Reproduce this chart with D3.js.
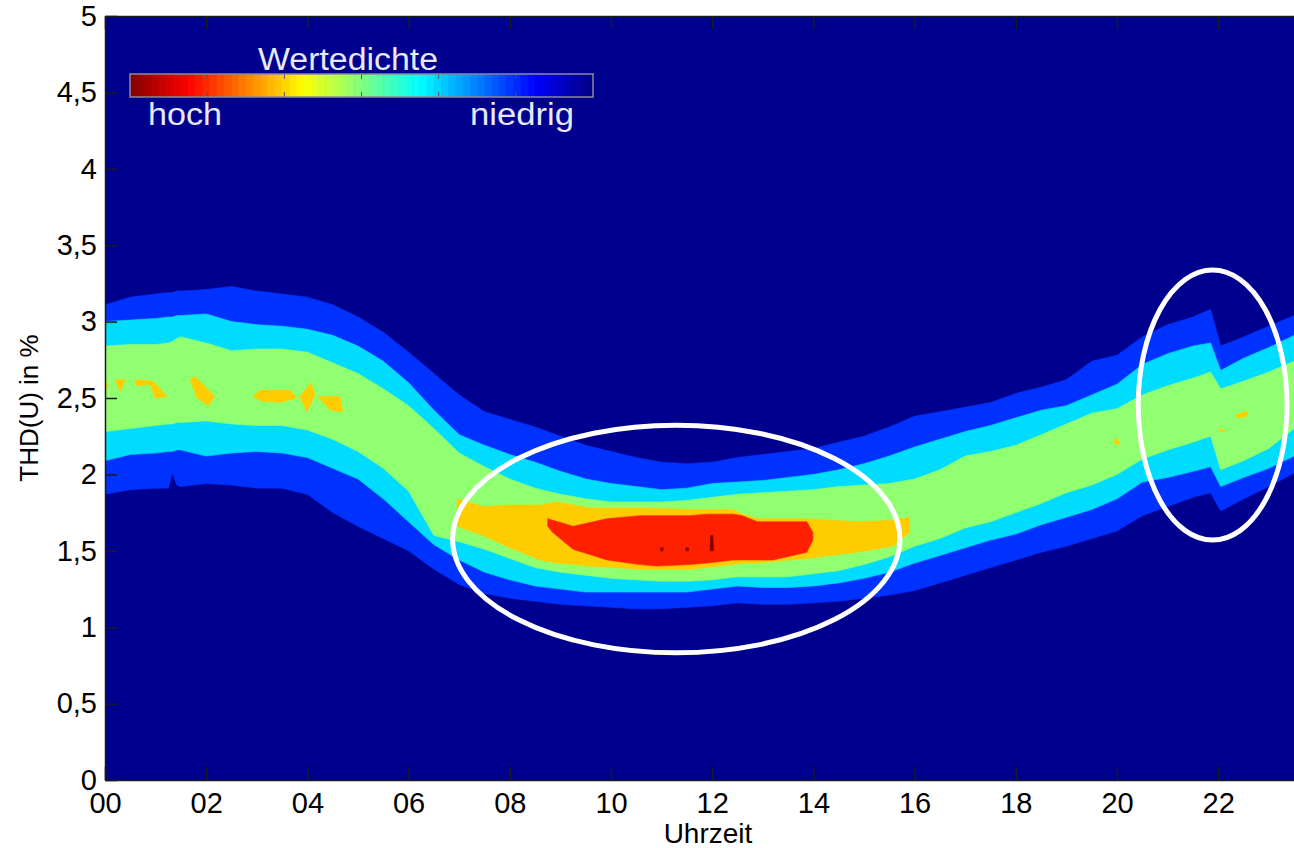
<!DOCTYPE html>
<html>
<head>
<meta charset="utf-8">
<script src="https://cdn.jsdelivr.net/npm/d3@7"></script>
<style>
  html, body { margin: 0; padding: 0; background: #fff; overflow: hidden; }
  svg text { font-family: "Liberation Sans", Arial, Helvetica, sans-serif; }
</style>
</head>
<body>
<svg id="chart" width="1294" height="848"></svg>
<script>
// ---- Data: THD(U) value-density bands over the time of day ----
// Sample times (hours) shared by the outer density levels
const hours = [0, 0.5, 1, 1.25, 1.33, 1.42, 1.5, 2, 2.5, 3, 3.5, 4, 4.5, 5, 5.5, 6, 6.5, 7, 7.5, 8, 8.5, 9, 9.5,
  10, 10.5, 11, 11.5, 12, 12.5, 13, 13.5, 14, 14.5, 15, 15.5, 16, 16.5, 17, 17.5, 18, 18.5, 19, 19.5,
  20, 20.5, 21, 21.5, 21.85, 22.05, 22.5, 23, 23.5, 24];

// Lowest density level (blue)
const blueUpper = [3.11, 3.16, 3.18, 3.19, 3.19, 3.20, 3.20, 3.21, 3.23, 3.20, 3.18, 3.16, 3.11, 3.03, 2.93, 2.80, 2.66, 2.52, 2.41, 2.36, 2.31, 2.25, 2.19,
  2.15, 2.11, 2.08, 2.07, 2.08, 2.11, 2.13, 2.15, 2.17, 2.21, 2.25, 2.31, 2.38, 2.41, 2.44, 2.47, 2.53, 2.57, 2.62, 2.74,
  2.78, 2.90, 2.98, 3.03, 3.08, 2.84, 2.90, 2.97, 3.04, 3.08];
const blueLower = [1.87, 1.90, 1.91, 1.91, 2.01, 1.93, 1.92, 1.94, 1.93, 1.91, 1.91, 1.87, 1.75, 1.66, 1.58, 1.50, 1.38, 1.28, 1.22, 1.19, 1.17, 1.15, 1.14,
  1.13, 1.12, 1.12, 1.13, 1.14, 1.16, 1.15, 1.15, 1.16, 1.17, 1.19, 1.21, 1.24, 1.29, 1.34, 1.39, 1.44, 1.49, 1.53, 1.58,
  1.63, 1.73, 1.79, 1.85, 1.88, 1.76, 1.84, 1.92, 2.01, 2.05];

// Second level (cyan)
const cyanUpper = [3.00, 3.01, 3.02, 3.03, 3.03, 3.04, 3.04, 3.05, 3.00, 2.98, 2.97, 2.95, 2.91, 2.84, 2.74, 2.60, 2.42, 2.26, 2.19, 2.13, 2.08, 2.02, 1.97,
  1.94, 1.92, 1.90, 1.91, 1.94, 1.95, 1.96, 1.98, 2.00, 2.03, 2.07, 2.12, 2.18, 2.23, 2.28, 2.32, 2.37, 2.42, 2.45, 2.52,
  2.59, 2.72, 2.79, 2.84, 2.86, 2.68, 2.76, 2.83, 2.91, 2.95];
const cyanLower = [2.09, 2.13, 2.14, 2.15, 2.15, 2.16, 2.16, 2.12, 2.14, 2.15, 2.14, 2.11, 2.04, 1.97, 1.84, 1.69, 1.54, 1.44, 1.36, 1.31, 1.27, 1.25, 1.23,
  1.23, 1.23, 1.23, 1.23, 1.25, 1.27, 1.26, 1.26, 1.27, 1.29, 1.32, 1.36, 1.42, 1.47, 1.52, 1.57, 1.61, 1.67, 1.72, 1.77,
  1.84, 1.95, 1.98, 2.02, 2.05, 1.92, 1.98, 2.04, 2.12, 2.16];

// Third level (green)
const greenUpper = [2.84, 2.85, 2.85, 2.86, 2.87, 2.89, 2.90, 2.86, 2.81, 2.82, 2.82, 2.80, 2.73, 2.66, 2.56, 2.45, 2.30, 2.14, 2.05, 1.97, 1.91, 1.87, 1.84,
  1.82, 1.82, 1.82, 1.83, 1.85, 1.87, 1.88, 1.89, 1.90, 1.92, 1.93, 1.94, 1.97, 2.03, 2.12, 2.15, 2.19, 2.26, 2.33, 2.40,
  2.43, 2.52, 2.58, 2.63, 2.67, 2.56, 2.61, 2.67, 2.74, 2.78];
const greenLower = [2.28, 2.30, 2.32, 2.33, 2.33, 2.34, 2.34, 2.35, 2.33, 2.32, 2.32, 2.29, 2.23, 2.15, 2.04, 1.89, 1.60, 1.56, 1.51, 1.45, 1.39, 1.36, 1.34,
  1.32, 1.31, 1.30, 1.30, 1.31, 1.33, 1.33, 1.33, 1.35, 1.37, 1.41, 1.46, 1.53, 1.58, 1.65, 1.69, 1.75, 1.81, 1.88, 1.93,
  2.00, 2.10, 2.16, 2.21, 2.25, 2.03, 2.09, 2.17, 2.30, 2.34];

// Fourth level (orange), main cluster around midday
const orangeHours = [6.96, 7.47, 8.0, 8.6, 8.93, 9.58, 10.57, 11.56, 12.41, 12.6, 12.89, 13.87, 14.86, 15.57, 15.9];
const orangeUpper = [1.84, 1.79, 1.80, 1.80, 1.82, 1.78, 1.78, 1.77, 1.77, 1.74, 1.71, 1.71, 1.69, 1.70, 1.72];
const orangeLower = [1.66, 1.60, 1.52, 1.44, 1.42, 1.40, 1.38, 1.38, 1.41, 1.42, 1.42, 1.45, 1.49, 1.53, 1.62];

// Fourth level (orange), small isolated patches as [hour, value] outlines
const orangePatches = [
  [[0, 2.62], [0.06, 2.58], [0, 2.54]],
  [[0.20, 2.62], [0.40, 2.62], [0.30, 2.54]],
  [[0.59, 2.62], [0.95, 2.61], [1.23, 2.51], [0.99, 2.50], [0.89, 2.59], [0.63, 2.58]],
  [[1.68, 2.62], [1.78, 2.64], [2.17, 2.51], [2.04, 2.45], [1.82, 2.50]],
  [[2.92, 2.51], [3.06, 2.55], [3.66, 2.55], [3.79, 2.50], [3.46, 2.47], [3.10, 2.48]],
  [[4.07, 2.60], [4.15, 2.52], [3.99, 2.41], [3.85, 2.51]],
  [[4.21, 2.51], [4.64, 2.51], [4.70, 2.41], [4.45, 2.42]],
  [[19.92, 2.21], [20.0, 2.24], [20.06, 2.19]],
  [[22.0, 2.30], [22.17, 2.28], [22.04, 2.28]],
  [[22.33, 2.39], [22.57, 2.41], [22.57, 2.38], [22.39, 2.37]]
];

// Fifth level (red), core of the midday cluster
const redHours = [8.75, 8.85, 9.25, 9.92, 10.57, 10.9, 11.56, 11.9, 12.41, 12.6, 12.89, 13.2, 13.87, 13.99];
const redUpper = [1.71, 1.70, 1.66, 1.71, 1.73, 1.73, 1.73, 1.74, 1.74, 1.73, 1.69, 1.69, 1.69, 1.62];
const redLower = [1.66, 1.62, 1.51, 1.44, 1.41, 1.40, 1.41, 1.42, 1.44, 1.44, 1.44, 1.44, 1.49, 1.57];

// Highest level (dark red) specks
const darkRedPatches = [
  [[10.98, 1.52], [11.03, 1.52], [11.03, 1.50], [10.98, 1.50]],
  [[11.48, 1.52], [11.53, 1.52], [11.53, 1.50], [11.48, 1.50]],
  [[11.97, 1.60], [12.01, 1.60], [12.03, 1.50], [11.96, 1.50]]
];

// Highlighted regions: [centre hour, centre value, half-width in hours, half-height in %]
const highlights = [
  [11.29, 1.577, 4.42, 0.745],
  [21.89, 2.454, 1.47, 0.884]
];

// Axis ticks
const xTickHours = [0, 2, 4, 6, 8, 10, 12, 14, 16, 18, 20, 22];
const xTickLabels = ["00", "02", "04", "06", "08", "10", "12", "14", "16", "18", "20", "22"];
const yTickValues = [0, 0.5, 1, 1.5, 2, 2.5, 3, 3.5, 4, 4.5, 5];
const yTickLabels = ["0", "0,5", "1", "1,5", "2", "2,5", "3", "3,5", "4", "4,5", "5"];

// Level colours (jet colormap steps)
const levelColors = {
  background: "#00008f",
  blue: "#0032ff",
  cyan: "#00dcff",
  green: "#90ff70",
  orange: "#ffcc00",
  red: "#ff2000",
  darkRed: "#800000"
};
// Jet colormap, reversed for the legend bar (high density on the left)
const jetStops = [[0, "#800000"], [0.125, "#ff0000"], [0.375, "#ffff00"], [0.625, "#00ffff"], [0.875, "#0000ff"], [1, "#000080"]];

// ---- Layout ----
const svg = d3.select("#chart");
const plot = { left: 105, top: 16, bottom: 780, hourPx: 50.6 };
const x = d3.scaleLinear().domain([0, 24]).range([plot.left, plot.left + 24 * plot.hourPx]);
const y = d3.scaleLinear().domain([0, 5]).range([plot.bottom, plot.top]);

svg.append("rect").attr("width", 1294).attr("height", 848).attr("fill", "#fff");

svg.append("clipPath").attr("id", "plotClip")
  .append("rect")
  .attr("x", x(0)).attr("y", y(5))
  .attr("width", x(24) - x(0)).attr("height", y(0) - y(5));

const g = svg.append("g").attr("clip-path", "url(#plotClip)");

g.append("rect")
  .attr("x", x(0)).attr("y", y(5))
  .attr("width", x(24) - x(0)).attr("height", y(0) - y(5))
  .attr("fill", levelColors.background);

function band(ts, upper, lower, color) {
  const area = d3.area()
    .x(i => x(ts[i]))
    .y0(i => y(lower[i]))
    .y1(i => y(upper[i]))
    .curve(d3.curveLinear);
  g.append("path")
    .attr("d", area(d3.range(ts.length)))
    .attr("fill", color)
    .attr("stroke", color)
    .attr("stroke-width", 0.6);
}

function patches(list, color) {
  const line = d3.line().x(d => x(d[0])).y(d => y(d[1]));
  g.selectAll(null).data(list).enter().append("path")
    .attr("d", d => line(d) + "Z")
    .attr("fill", color)
    .attr("stroke", color)
    .attr("stroke-width", 0.6);
}

band(hours, blueUpper, blueLower, levelColors.blue);
band(hours, cyanUpper, cyanLower, levelColors.cyan);
band(hours, greenUpper, greenLower, levelColors.green);
band(orangeHours, orangeUpper, orangeLower, levelColors.orange);
patches(orangePatches, levelColors.orange);
band(redHours, redUpper, redLower, levelColors.red);
patches(darkRedPatches, levelColors.darkRed);

// Highlight ellipses
g.selectAll("ellipse").data(highlights).enter().append("ellipse")
  .attr("cx", d => x(d[0]))
  .attr("cy", d => y(d[1]))
  .attr("rx", d => x(d[0] + d[2]) - x(d[0]))
  .attr("ry", d => y(d[1] - d[3]) - y(d[1]))
  .attr("fill", "none")
  .attr("stroke", "#fff")
  .attr("stroke-width", 5);

// ---- Axes ----
const axisColor = "#1a1a1a";
const fontSize = 29;

const xAxis = svg.append("g")
  .attr("transform", `translate(0,${plot.bottom})`)
  .call(d3.axisBottom(x).tickValues(xTickHours)
    .tickFormat((d, i) => xTickLabels[i])
    .tickSizeInner(-13).tickSizeOuter(0).tickPadding(12));

const xAxisTop = svg.append("g")
  .attr("transform", `translate(0,${plot.top})`)
  .call(d3.axisTop(x).tickValues(xTickHours).tickFormat("")
    .tickSizeInner(-13).tickSizeOuter(0));

const yAxis = svg.append("g")
  .attr("transform", `translate(${plot.left},0)`)
  .call(d3.axisLeft(y).tickValues(yTickValues)
    .tickFormat((d, i) => yTickLabels[i])
    .tickSizeInner(-12).tickSizeOuter(0).tickPadding(8));

[xAxis, xAxisTop, yAxis].forEach(a => {
  a.select(".domain").attr("stroke", axisColor).attr("stroke-width", 1.5);
  a.selectAll(".tick line").attr("stroke", axisColor).attr("stroke-width", 1.5);
  a.selectAll(".tick text").attr("fill", "#000").style("font-size", fontSize + "px");
});
yAxis.selectAll(".tick text").attr("dy", "0.32em");

svg.append("text")
  .attr("x", 708)
  .attr("y", 843)
  .attr("text-anchor", "middle")
  .style("font-size", "28px")
  .attr("fill", "#000")
  .text("Uhrzeit");

svg.append("text")
  .attr("transform", `translate(38,${(plot.top + plot.bottom) / 2 + 10}) rotate(-90)`)
  .attr("text-anchor", "middle")
  .style("font-size", "26px")
  .attr("fill", "#000")
  .text("THD(U) in %");

// ---- Density legend ----
const legend = svg.append("g");
const bar = { x: 130, y: 74, w: 463, h: 23 };
const jet = d3.scaleLinear().domain(jetStops.map(s => s[0])).range(jetStops.map(s => s[1]))
  .interpolate(d3.interpolateRgb);
const steps = d3.range(64);
const stepW = bar.w / steps.length;
legend.selectAll("rect.step").data(steps).enter().append("rect")
  .attr("class", "step")
  .attr("x", d => bar.x + d * stepW)
  .attr("y", bar.y)
  .attr("width", stepW + 0.6)
  .attr("height", bar.h)
  .attr("fill", d => jet((d + 0.5) / steps.length));
legend.selectAll("line.div").data(d3.range(1, 6)).enter().append("line")
  .attr("class", "div")
  .attr("x1", d => bar.x + d * bar.w / 6).attr("x2", d => bar.x + d * bar.w / 6)
  .attr("y1", bar.y).attr("y2", bar.y + 5)
  .attr("stroke", "#555").attr("stroke-width", 1);
legend.selectAll("line.div2").data(d3.range(1, 6)).enter().append("line")
  .attr("class", "div2")
  .attr("x1", d => bar.x + d * bar.w / 6).attr("x2", d => bar.x + d * bar.w / 6)
  .attr("y1", bar.y + bar.h - 5).attr("y2", bar.y + bar.h)
  .attr("stroke", "#555").attr("stroke-width", 1);
legend.append("rect")
  .attr("x", bar.x).attr("y", bar.y).attr("width", bar.w).attr("height", bar.h)
  .attr("fill", "none").attr("stroke", "#8a8a9a").attr("stroke-width", 1.5);

const legendText = "#e8e8f6";
legend.append("text")
  .attr("x", 258).attr("y", 70)
  .style("font-size", "31px")
  .attr("textLength", 180).attr("lengthAdjust", "spacingAndGlyphs")
  .attr("fill", legendText)
  .text("Wertedichte");
legend.append("text")
  .attr("x", 148).attr("y", 125)
  .style("font-size", "31px")
  .attr("textLength", 74).attr("lengthAdjust", "spacingAndGlyphs")
  .attr("fill", legendText)
  .text("hoch");
legend.append("text")
  .attr("x", 470).attr("y", 125)
  .style("font-size", "31px")
  .attr("textLength", 104).attr("lengthAdjust", "spacingAndGlyphs")
  .attr("fill", legendText)
  .text("niedrig");
</script>
</body>
</html>
